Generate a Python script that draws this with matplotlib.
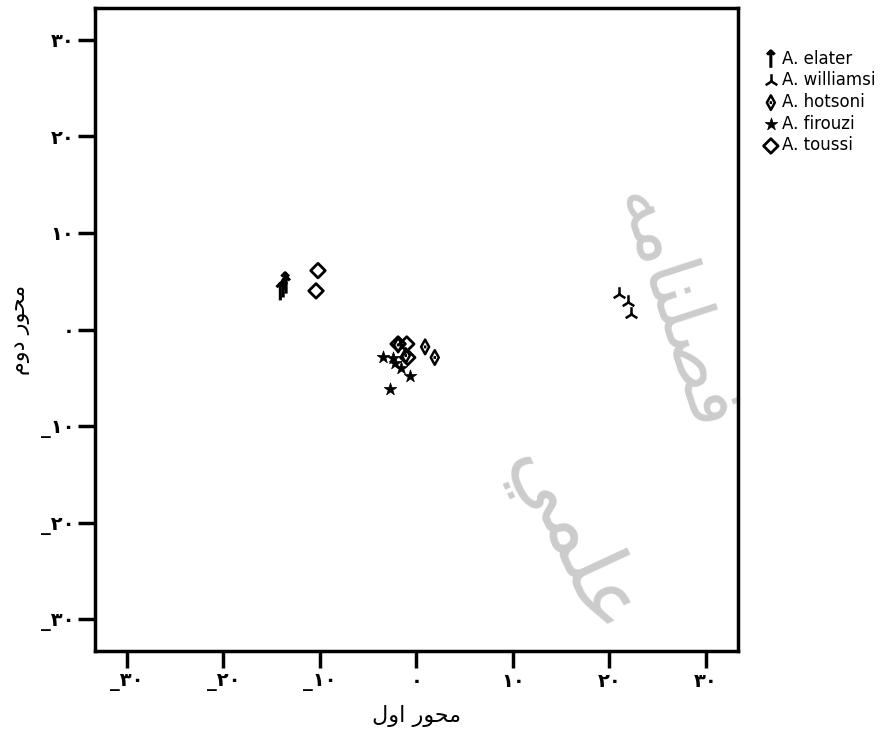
import matplotlib
matplotlib.use("Agg")
import matplotlib.pyplot as plt
from matplotlib.path import Path

# group centroids, axis 1 / axis 2
elater_x = [-13.8, -13.5, -14.1, -13.6]
elater_y = [4.2, 4.6, 3.9, 5.0]
williamsi_x = [21.0, 21.9, 22.2]
williamsi_y = [3.7, 2.8, 1.6]
hotsoni_x = [0.9, 1.9, -1.9, -1.1]
hotsoni_y = [-1.8, -2.9, -1.6, -2.7]
firouzi_x = [-3.5, -2.7, -0.7, -2.2, -1.6, -2.4]
firouzi_y = [-2.8, -6.2, -4.8, -3.5, -4.0, -3.0]
toussi_x = [-10.2, -10.4, -1.9, -1.0, -0.9]
toussi_y = [6.1, 4.0, -1.5, -1.5, -2.9]

ticks = [-30, -20, -10, 0, 10, 20, 30]
fa_digits = str.maketrans("0123456789", "\u06f0\u06f1\u06f2\u06f3\u06f4\u06f5\u06f6\u06f7\u06f8\u06f9")
tick_labels = [("_" if t < 0 else "") + str(abs(t)).translate(fa_digits) for t in ticks]

# pre-shaped persian text (visual order)
xlabel = "\uFEDD\uFEED\uFE8D \uFEAD\uFEEE\uFEA4\uFEE3"   # محور اول
ylabel = "\uFEE1\uFEED\uFEA9 \uFEAD\uFEEE\uFEA4\uFEE3"   # محور دوم
wm1 = "\uFEF2\uFEE4\uFEE0\uFECB"                          # علمی
wm2 = "\uFEEA\uFEE3\uFE8E\uFEE8\uFEE0\uFEBC\uFED3"        # فصلنامه

arrow = Path([(0, -1), (0, 1), (-0.45, 0.55), (0, 1), (0.45, 0.55)],
             [Path.MOVETO, Path.LINETO, Path.MOVETO, Path.LINETO, Path.LINETO])
thin_diamond = Path([(0, 1), (0.55, 0), (0, -1), (-0.55, 0), (0, 1), (0, 0.2), (0, -0.2)],
                    [Path.MOVETO, Path.LINETO, Path.LINETO, Path.LINETO, Path.CLOSEPOLY,
                     Path.MOVETO, Path.LINETO])

fig = plt.figure(figsize=(8.83, 7.29), dpi=100)
ax = fig.add_axes([0.1076, 0.107, 0.728, 0.882])

# watermark
ax.text(0.74, 0.17, wm1, transform=ax.transAxes, fontsize=62, color="#cccccc",
        rotation=-65, ha="center", va="center", zorder=0)
ax.text(0.9, 0.53, wm2, transform=ax.transAxes, fontsize=54, color="#cccccc",
        rotation=-72, ha="center", va="center", zorder=0)

ax.scatter(elater_x, elater_y, marker=arrow, s=150, facecolors="none",
           edgecolors="black", linewidths=2.2, label="A. elater", zorder=3)
ax.scatter(williamsi_x, williamsi_y, marker="2", s=110, color="black",
           linewidths=1.8, label="A. williamsi", zorder=3)
ax.scatter(hotsoni_x, hotsoni_y, marker=thin_diamond, s=110, facecolors="none",
           edgecolors="black", linewidths=1.8, label="A. hotsoni", zorder=3)
ax.scatter(firouzi_x, firouzi_y, marker="*", s=90, color="black",
           linewidths=0.5, label="A. firouzi", zorder=3)
ax.scatter(toussi_x, toussi_y, marker="D", s=55, facecolors="none",
           edgecolors="black", linewidths=2, label="A. toussi", zorder=3)

ax.set_xlim(-33.3, 33.3)
ax.set_ylim(-33.3, 33.3)
ax.set_xticks(ticks)
ax.set_yticks(ticks)
ax.set_xticklabels(tick_labels, fontsize=14, fontweight="bold")
ax.set_yticklabels(tick_labels, fontsize=14, fontweight="bold")
ax.tick_params(length=12, width=2.5, direction="out", pad=3)
for sp in ax.spines.values():
    sp.set_linewidth(2.5)

ax.set_xlabel(xlabel, fontsize=16, labelpad=10)
ax.set_ylabel(ylabel, fontsize=16, labelpad=8)

fig.legend(loc="upper left", bbox_to_anchor=(0.856, 0.941), frameon=False,
           fontsize=12, handletextpad=0.15, labelspacing=0.22, handlelength=1.0,
           borderaxespad=0.0)

fig.savefig("out.png", dpi=100)
